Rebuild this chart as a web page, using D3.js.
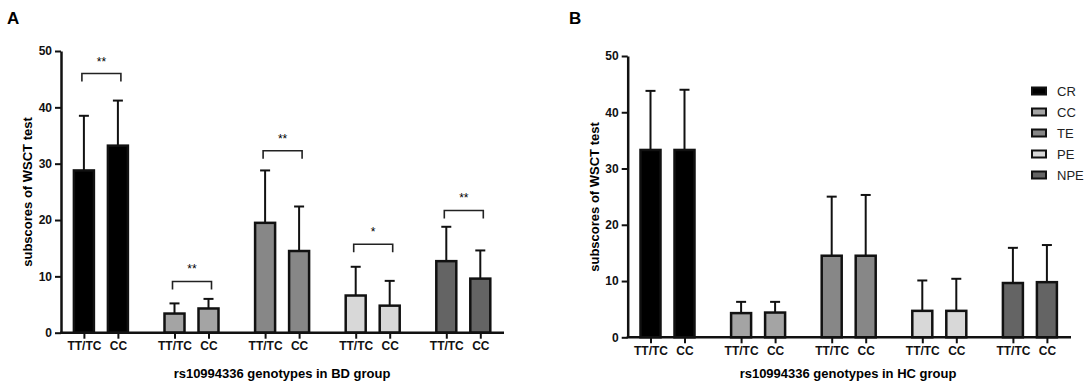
<!DOCTYPE html>
<html>
<head>
<meta charset="utf-8">
<script src="https://cdn.jsdelivr.net/npm/d3@7"></script>
<style>
  body { margin: 0; background: #fff; }
  svg { display: block; font-family: "Liberation Sans", Arial, sans-serif; }
</style>
</head>
<body>
<svg width="1084" height="388"></svg>
<script>
// tests and genotypes
var groups = ['CR', 'CC', 'TE', 'PE', 'NPE'];
var genotypes = ['TT/TC', 'CC'];
var colors = ['#000000', '#a4a4a4', '#878787', '#d8d8d8', '#646464'];
var yTicks = [0, 10, 20, 30, 40, 50];

// BD group (panel A): means and mean + SD
var bdMeanTT = [28.8, 3.4, 19.5, 6.6, 12.7];
var bdMeanCC = [33.2, 4.3, 14.5, 4.8, 9.6];
var bdUpperTT = [38.5, 5.2, 28.8, 11.7, 18.8];
var bdUpperCC = [41.2, 6.0, 22.4, 9.2, 14.6];
var bdSig = ['**', '**', '**', '*', '**'];
var bdSigLevel = [46, 9.1, 32.3, 15.7, 21.7];

// HC group (panel B)
var hcMeanTT = [33.3, 4.3, 14.5, 4.7, 9.65];
var hcMeanCC = [33.3, 4.4, 14.5, 4.7, 9.8];
var hcUpperTT = [43.8, 6.3, 25.0, 10.1, 15.9];
var hcUpperCC = [44.0, 6.3, 25.3, 10.4, 16.4];

var svg = d3.select('svg');

function panel(opt) {
  var g = svg.append('g');

  var yScale = d3.scaleLinear()
                 .domain([0, 50])
                 .range([opt.y0, opt.y1]);

  var xGroup = d3.scaleBand()
                 .domain(groups)
                 .range([opt.bandX0, opt.bandX1]);

  var xGeno = d3.scalePoint()
                .domain(genotypes)
                .range([-17, 17]);

  function xPos(grp, geno) {
    return xGroup(grp) + xGroup.bandwidth() / 2 + xGeno(geno);
  }

  // flatten into bar records
  var bars = [];
  groups.forEach(function(grp, i) {
    bars.push({grp: grp, i: i, geno: 'TT/TC', mean: opt.meanTT[i], upper: opt.upperTT[i]});
    bars.push({grp: grp, i: i, geno: 'CC', mean: opt.meanCC[i], upper: opt.upperCC[i]});
  });

  // error bars (upper only)
  g.selectAll('g.err')
    .data(bars)
    .enter()
    .append('g')
    .attr('class', 'err')
    .each(function(d) {
      var x = xPos(d.grp, d.geno);
      d3.select(this).append('line')
        .attr('x1', x).attr('x2', x)
        .attr('y1', yScale(d.mean)).attr('y2', yScale(d.upper))
        .style('stroke', '#111').style('stroke-width', 2);
      d3.select(this).append('line')
        .attr('x1', x - 5).attr('x2', x + 5)
        .attr('y1', yScale(d.upper)).attr('y2', yScale(d.upper))
        .style('stroke', '#111').style('stroke-width', 2);
    });

  g.selectAll('rect.bar')
    .data(bars)
    .enter()
    .append('rect')
    .attr('class', 'bar')
    .attr('x', function(d) { return xPos(d.grp, d.geno) - 10; })
    .attr('width', 20)
    .attr('y', function(d) { return yScale(d.mean); })
    .attr('height', function(d) { return yScale(0) - yScale(d.mean); })
    .style('fill', function(d) { return colors[d.i]; })
    .style('stroke', '#111')
    .style('stroke-width', 2.5);

  // y axis
  var yAxis = d3.axisLeft(yScale)
                .tickValues(yTicks)
                .tickSize(6)
                .tickSizeOuter(0)
                .tickPadding(3);
  var ya = g.append('g')
    .attr('transform', 'translate(' + opt.axisX0 + ',0)')
    .call(yAxis);
  ya.select('.domain').style('stroke-width', 2.5).style('stroke', '#111');
  ya.selectAll('.tick line').style('stroke-width', 2).style('stroke', '#111');
  ya.selectAll('.tick text')
    .style('font-size', '12px').style('font-weight', 'bold')
    .style('font-family', '"Liberation Sans", Arial, sans-serif').style('fill', '#111');

  // x axis
  var keys = [];
  var pos = [];
  bars.forEach(function(d) {
    keys.push(d.grp + '|' + d.geno);
    pos.push(xPos(d.grp, d.geno));
  });
  var xTick = d3.scaleOrdinal().domain(keys).range(pos);
  var xAxis = d3.axisBottom(xTick)
                .tickSize(6)
                .tickSizeOuter(0)
                .tickPadding(3)
                .tickFormat(function(k) { return k.split('|')[1]; });
  var xa = g.append('g')
    .attr('transform', 'translate(0,' + opt.y0 + ')')
    .call(xAxis);
  xa.select('.domain').remove();
  xa.selectAll('.tick line').style('stroke-width', 2).style('stroke', '#111');
  xa.selectAll('.tick text')
    .style('font-size', '12px').style('font-weight', 'bold')
    .style('font-family', '"Liberation Sans", Arial, sans-serif').style('fill', '#111');
  g.append('line')
    .attr('x1', opt.axisX0 - 1).attr('x2', opt.axisX1)
    .attr('y1', opt.y0).attr('y2', opt.y0)
    .style('stroke', '#111').style('stroke-width', 2.5);

  // significance brackets
  if (opt.sig) {
    groups.forEach(function(grp, i) {
      var xa0 = xPos(grp, 'TT/TC') - 2;
      var xa1 = xPos(grp, 'CC') + 3;
      var yb = yScale(opt.sigLevel[i]);
      g.append('path')
        .attr('d', 'M' + xa0 + ',' + (yb + 8) + 'V' + yb + 'H' + xa1 + 'V' + (yb + 8))
        .style('fill', 'none').style('stroke', '#222').style('stroke-width', 1.6);
      g.append('text')
        .attr('x', (xa0 + xa1) / 2)
        .attr('y', yb - 8)
        .attr('text-anchor', 'middle')
        .style('font-size', '12px')
        .text(opt.sig[i]);
    });
  }

  // titles
  g.append('text')
    .attr('transform', 'translate(' + opt.yTitleX + ',' + opt.yTitleY + ') rotate(-90)')
    .attr('text-anchor', 'middle')
    .style('font-size', '13px').style('font-weight', 'bold')
    .text('subscores of WSCT test');
  g.append('text')
    .attr('x', opt.xTitleX).attr('y', 378)
    .attr('text-anchor', 'middle')
    .style('font-size', '13px').style('font-weight', 'bold')
    .text(opt.xTitle);
  g.append('text')
    .attr('x', opt.letterX).attr('y', 24)
    .style('font-size', '17px').style('font-weight', 'bold')
    .text(opt.letter);
}

panel({
  letter: 'A', letterX: 7,
  y0: 332.7, y1: 51,
  bandX0: 55.6, bandX1: 508.6,
  axisX0: 61, axisX1: 504,
  meanTT: bdMeanTT, meanCC: bdMeanCC,
  upperTT: bdUpperTT, upperCC: bdUpperCC,
  sig: bdSig, sigLevel: bdSigLevel,
  yTitleX: 32, yTitleY: 192,
  xTitleX: 282, xTitle: 'rs10994336 genotypes in BD group'
});

panel({
  letter: 'B', letterX: 569,
  y0: 337.3, y1: 56,
  bandX0: 622.2, bandX1: 1075.2,
  axisX0: 627.7, axisX1: 1071,
  meanTT: hcMeanTT, meanCC: hcMeanCC,
  upperTT: hcUpperTT, upperCC: hcUpperCC,
  sig: null,
  yTitleX: 599, yTitleY: 197,
  xTitleX: 848, xTitle: 'rs10994336 genotypes in HC group'
});

// legend
var legend = svg.append('g')
  .selectAll('g.leg')
  .data(groups)
  .enter()
  .append('g')
  .attr('class', 'leg')
  .attr('transform', function(d, i) {
    return 'translate(1031,' + (91 + i * 21) + ')';
  });
legend.append('rect')
  .attr('x', 1).attr('y', -3.5)
  .attr('width', 14).attr('height', 7)
  .style('fill', function(d, i) { return colors[i]; })
  .style('stroke', '#111').style('stroke-width', 2);
legend.append('text')
  .attr('x', 26).attr('y', 5)
  .style('font-size', '13px')
  .style('fill', '#222')
  .text(function(d) { return d; });
</script>
</body>
</html>
